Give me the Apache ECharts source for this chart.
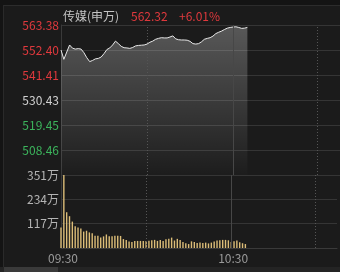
<!DOCTYPE html>
<html><head><meta charset="utf-8">
<script src="https://cdn.jsdelivr.net/npm/echarts@6/dist/echarts.min.js"></script>
<style>html,body{margin:0;padding:0;background:#1b1b1b}#c{width:340px;height:272px}</style>
</head><body><div id="c"></div>
<script>
const indexName = '传媒(申万)';
const lastPriceText = '562.32';
const changeText = '+6.01%';
const prevClose = 530.43;
const priceMin = 497.48;
const priceMax = 563.38;
const volMax = 351;
const volInterval = 117;
const xMax = 97.3;
const xTickMinutes = [0, 60];
const xTickLabels = ['09:30', '10:30'];
const dottedMinutes = [30, 89.5];
const solidMinutes = [60];

const minutes = [0,1,2,3,4,5,6,7,8,9,10,11,12,13,14,15,16,17,18,19,20,21,22,23,24,25,26,27,28,29,30,31,32,33,34,35,36,37,38,39,40,41,42,43,44,45,46,47,48,49,50,51,52,53,54,55,56,57,58,59,60,61,62,63,64,65];
const prices = [552.4,548.3,551.5,554.6,553.2,552.8,553.0,552.8,551.2,549.0,547.3,547.8,548.5,548.7,549.3,550.8,552.6,553.3,554.6,556.3,555.2,554.0,553.4,553.3,553.1,553.5,554.2,554.4,554.5,554.6,555.0,555.8,556.3,557.1,557.5,557.8,557.7,557.7,558.1,558.6,557.3,556.9,556.8,556.8,556.7,556.2,555.2,555.0,555.2,556.0,557.1,557.5,557.8,558.5,559.6,560.2,560.7,561.4,562.0,562.3,562.5,562.6,562.3,561.9,562.0,562.32];
const volumes = [99,351,172,153,127,104,98,94,79,83,75,71,59,59,50,56,65,57,57,59,59,58,43,38,31,29,34,34,34,34,34,35,37,39,34,39,34,42,45,50,36,44,39,29,23,19,32,29,24,26,24,26,22,26,31,36,37,39,39,37,29,32,36,28,23,19];

const RED = '#e0393d', GREEN = '#3cb45c', FONT = '"Noto Sans CJK SC", "Noto Sans", sans-serif';
const chart = echarts.init(document.getElementById('c'), null, {renderer: 'canvas'});

function vLines(withDotted) {
  const data = [];
  dottedMinutes.forEach(m => data.push({xAxis: m, lineStyle: {type: [1, 2], color: '#555', width: 1}}));
  solidMinutes.forEach(m => data.push({xAxis: m, lineStyle: {type: 'solid', color: '#474747', width: 1}}));
  return {silent: true, symbol: ['none', 'none'], label: {show: false}, data: data, animation: false};
}

chart.setOption({
  animation: false,
  backgroundColor: '#1b1b1b',
  textStyle: {fontFamily: FONT},
  graphic: [
    {type: 'rect', shape: {x: 0, y: 0, width: 340, height: 5}, style: {fill: '#141414'}, z: 0},
    {type: 'rect', shape: {x: 0, y: 5, width: 340, height: 1}, style: {fill: '#2c2c2c'}, z: 0},
    {type: 'rect', shape: {x: 0, y: 0, width: 3, height: 272}, style: {fill: '#141414'}, z: 0},
    {type: 'rect', shape: {x: 3, y: 5, width: 1, height: 267}, style: {fill: '#2a2a2a'}, z: 0},
    {type: 'rect', shape: {x: 0, y: 267, width: 340, height: 5}, style: {fill: '#242424'}, z: 0},
    {type: 'rect', shape: {x: 4, y: 267, width: 54, height: 5}, style: {fill: '#3a3a3a'}, z: 0},
    {type: 'text', x: 63, y: 16, style: {text: indexName, fill: '#c4c4c4', font: '12px ' + FONT, verticalAlign: 'middle'}},
    {type: 'text', x: 131, y: 16, style: {text: lastPriceText, fill: RED, font: '12px ' + FONT, verticalAlign: 'middle'}},
    {type: 'text', x: 179, y: 16, style: {text: changeText, fill: RED, font: '12px ' + FONT, verticalAlign: 'middle'}}
  ],
  grid: [
    {left: 61, right: 0, top: 25, height: 150},
    {left: 61, right: 0, top: 175, height: 73}
  ],
  xAxis: [
    {gridIndex: 0, type: 'value', min: 0, max: xMax, interval: 30,
     axisLine: {show: false}, axisTick: {show: false}, axisLabel: {show: false}, splitLine: {show: false}},
    {gridIndex: 1, type: 'value', min: 0, max: xMax, interval: 30,
     axisLine: {show: true, lineStyle: {color: '#3a3a3a'}}, axisTick: {show: false}, splitLine: {show: false},
     axisLabel: {color: '#9a9a9a', fontSize: 12, margin: 4, padding: [0, 0, 0, 4],
       formatter: v => { const i = xTickMinutes.indexOf(v); return i >= 0 ? xTickLabels[i] : ''; }}}
  ],
  yAxis: [
    {gridIndex: 0, type: 'value', min: priceMin, max: priceMax, interval: (priceMax - priceMin) / 6,
     axisLine: {show: true, lineStyle: {color: '#3a3a3a'}}, axisTick: {show: false},
     splitLine: {show: true, lineStyle: {color: '#353535'}},
     axisLabel: {showMinLabel: false, fontSize: 12, margin: 2, padding: [7, 0, 0, 0],
       formatter: v => v.toFixed(2),
       color: v => Math.abs(v - prevClose) < 0.01 ? '#d0d0d0' : (v > prevClose ? RED : GREEN)}},
    {gridIndex: 1, type: 'value', min: 0, max: volMax, interval: volInterval,
     axisLine: {show: true, lineStyle: {color: '#3a3a3a'}}, axisTick: {show: false},
     splitLine: {show: true, lineStyle: {color: '#353535'}},
     axisLabel: {showMinLabel: false, fontSize: 12, margin: 2, padding: [7, 0, 0, 0], color: '#b4b4b4',
       formatter: v => v + '万'}}
  ],
  series: [
    {type: 'line', xAxisIndex: 0, yAxisIndex: 0, data: minutes.map((m, i) => [m, prices[i]]),
     showSymbol: false, symbol: 'none', lineStyle: {color: '#e8e8e8', width: 1},
     areaStyle: {origin: 'start', color: new echarts.graphic.LinearGradient(0, 0, 0, 1, [
       {offset: 0, color: 'rgba(255,255,255,0.38)'}, {offset: 1, color: 'rgba(255,255,255,0.01)'}])},
     markLine: vLines(), z: 3},
    {type: 'bar', xAxisIndex: 1, yAxisIndex: 1, data: minutes.map((m, i) => [m, volumes[i]]),
     barWidth: 1.4, itemStyle: {color: '#dcbd78'}, markLine: vLines(), z: 3}
  ]
});
</script></body></html>
